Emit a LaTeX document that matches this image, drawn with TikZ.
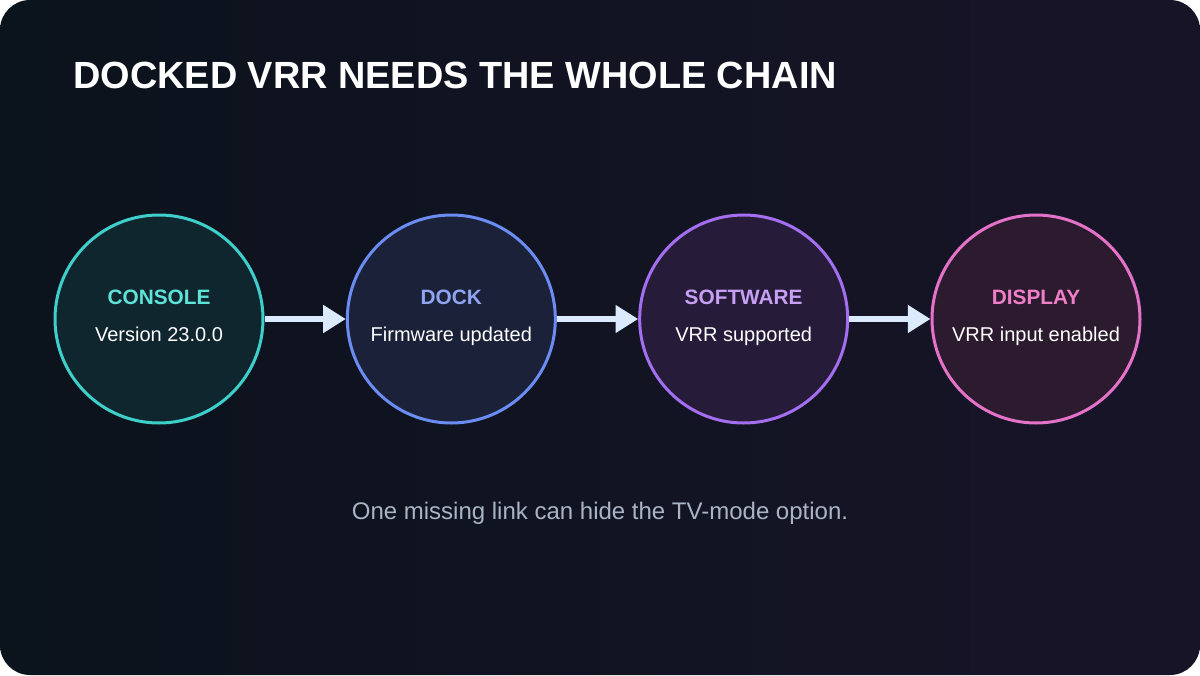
\documentclass[tikz,border=0pt]{standalone}
\usepackage{fontspec}
\setmainfont{Liberation Sans}
\usepackage{xcolor}
\usetikzlibrary{arrows.meta, positioning}

\definecolor{bgleft}{HTML}{0B131C}
\definecolor{bgright}{HTML}{181428}
\definecolor{arrowc}{HTML}{DBEAFE}
\definecolor{notec}{HTML}{A9B4C4}
\definecolor{consoleline}{HTML}{3FCFCB}
\definecolor{consolefill}{HTML}{10262E}
\definecolor{consoletext}{HTML}{5EE3D9}
\definecolor{dockline}{HTML}{6B8CF2}
\definecolor{dockfill}{HTML}{1B2138}
\definecolor{docktext}{HTML}{90A5F2}
\definecolor{softline}{HTML}{A46EF0}
\definecolor{softfill}{HTML}{261B38}
\definecolor{softtext}{HTML}{C7A0F5}
\definecolor{displine}{HTML}{E472C8}
\definecolor{dispfill}{HTML}{2C1A2E}
\definecolor{disptext}{HTML}{F07FC9}

\begin{document}
\begin{tikzpicture}[
  x=0.75pt, y=-0.75pt,
  stage/.style={circle, draw, line width=2.25pt, minimum size=156pt, inner sep=0pt},
  head/.style={anchor=base, inner sep=0pt, font=\fontsize{15.6}{18}\selectfont\bfseries},
  detail/.style={anchor=base, inner sep=0pt, text=white, font=\fontsize{15}{18}\selectfont},
  node distance=61pt,
  link/.style={-{Triangle[length=17pt, width=20pt]}, line width=4.5pt, draw=arrowc}
]
\useasboundingbox (0,0) rectangle (1200,675);
\shade[left color=bgleft, right color=bgright, rounded corners=22.5pt] (0,0) rectangle (1200,675);

\node[anchor=base west, inner sep=0pt, text=white, font=\fontsize{28.4}{34}\selectfont\bfseries] (title) at (73,88) {DOCKED VRR NEEDS THE WHOLE CHAIN};

% the four links of the chain
\node[stage, draw=consoleline, fill=consolefill] (console) at (159,319) {};
\node[stage, draw=dockline, fill=dockfill, right=of console] (dock) {};
\node[stage, draw=softline, fill=softfill, right=of dock] (software) {};
\node[stage, draw=displine, fill=dispfill, right=of software] (display) {};

\node[head, text=consoletext] (consolehead) at ([yshift=11.25pt]console.center) {CONSOLE};
\node[detail] (consoledetail) at ([yshift=-16.5pt]console.center) {Version 23.0.0};
\node[head, text=docktext] (dockhead) at ([yshift=11.25pt]dock.center) {DOCK};
\node[detail] (dockdetail) at ([yshift=-16.5pt]dock.center) {Firmware updated};
\node[head, text=softtext] (softhead) at ([yshift=11.25pt]software.center) {SOFTWARE};
\node[detail] (softdetail) at ([yshift=-16.5pt]software.center) {VRR supported};
\node[head, text=disptext] (disphead) at ([yshift=11.25pt]display.center) {DISPLAY};
\node[detail] (dispdetail) at ([yshift=-16.5pt]display.center) {VRR input enabled};

\draw[link] (console) -- (dock);
\draw[link] (dock) -- (software);
\draw[link] (software) -- (display);

\node[anchor=base, text=notec, font=\fontsize{18}{21}\selectfont] (note) at (600,519) {One missing link can hide the TV-mode option.};
\end{tikzpicture}
\end{document}
